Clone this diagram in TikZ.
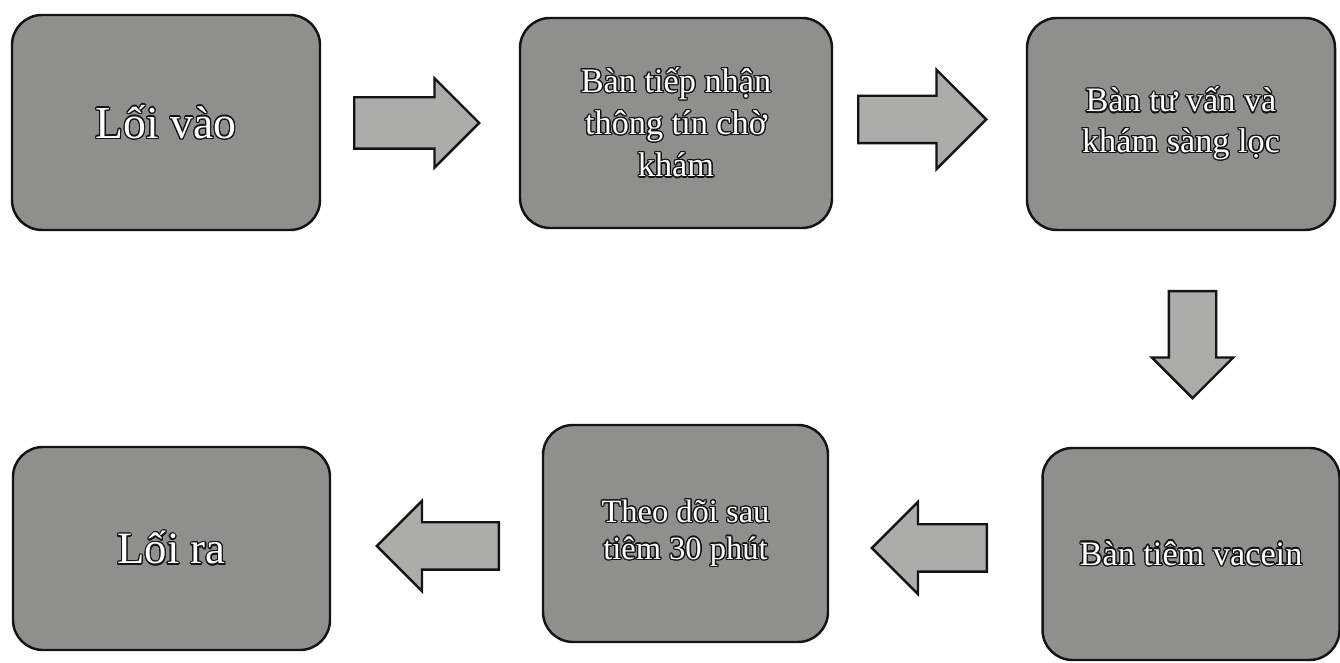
\documentclass[tikz,border=0pt]{standalone}
\usepackage{fontspec}
\setmainfont{Liberation Serif}
\usepackage{contour}
\contourlength{0.7pt}
\usetikzlibrary{shapes.arrows}

\definecolor{boxgray}{RGB}{143,143,141}
\definecolor{arrowgray}{RGB}{172,172,170}
\definecolor{edgeblack}{RGB}{20,20,20}

\begin{document}
\begin{tikzpicture}[
          station/.style={rectangle, rounded corners=0.6cm, draw=edgeblack,
            fill=boxgray, line width=1.4pt, align=center, text=white},
          blockarrow/.style={single arrow, draw=edgeblack, fill=arrowgray,
            line width=1.4pt, single arrow tip angle=90, anchor=tail}]

        \useasboundingbox (0,0) rectangle (26.8,13.26);

        \node[station, minimum width=6.16cm, minimum height=4.3cm,
              font=\fontsize{26}{30}\selectfont] (entry) at (3.32,10.81)
              {\contour{edgeblack}{Lối vào}};
        \node[station, minimum width=6.24cm, minimum height=4.2cm,
              font=\fontsize{19.5}{24}\selectfont] (reception) at (13.52,10.80)
              {\contour{edgeblack}{Bàn tiếp nhận}\\\contour{edgeblack}{thông tín chờ}\\\contour{edgeblack}{khám}};
        \node[station, minimum width=6.16cm, minimum height=4.24cm,
              font=\fontsize{19.5}{23}\selectfont] (consult) at (23.62,10.78)
              {\contour{edgeblack}{Bàn tư vấn và}\\\contour{edgeblack}{khám sàng lọc}};

        \node[station, minimum width=5.94cm, minimum height=4.24cm,
              font=\fontsize{19.5}{23}\selectfont] (inject) at (23.82,2.18)
              {\contour{edgeblack}{Bàn tiêm vacein}};
        \node[station, minimum width=5.7cm, minimum height=4.34cm,
              font=\fontsize{18.5}{21}\selectfont] (monitor) at (13.71,2.59)
              {\contour{edgeblack}{Theo dõi sau}\\\contour{edgeblack}{tiêm 30 phút}};
        \node[station, minimum width=6.34cm, minimum height=4.06cm,
              font=\fontsize{25.5}{28}\selectfont] (exit) at (3.43,2.29)
              {\contour{edgeblack}{Lối ra}};

        % block arrows between the stations (placed by their tails)
        \node[blockarrow, minimum height=2.5cm, inner sep=0.49cm,
              single arrow head extend=0.38cm] (a1) at (7.06,10.80) {};
        \node[blockarrow, minimum height=2.56cm, inner sep=0.45cm,
              single arrow head extend=0.52cm] (a2) at (17.14,10.87) {};
        \node[blockarrow, minimum height=2.14cm, inner sep=0.45cm,
              single arrow head extend=0.34cm, shape border rotate=270] (a3) at (23.85,7.46) {};
        \node[blockarrow, minimum height=2.3cm, inner sep=0.45cm,
              single arrow head extend=0.45cm, shape border rotate=180] (a4) at (19.76,2.30) {};
        \node[blockarrow, minimum height=2.44cm, inner sep=0.45cm,
              single arrow head extend=0.43cm, shape border rotate=180] (a5) at (10.00,2.34) {};

      \end{tikzpicture}
\end{document}
